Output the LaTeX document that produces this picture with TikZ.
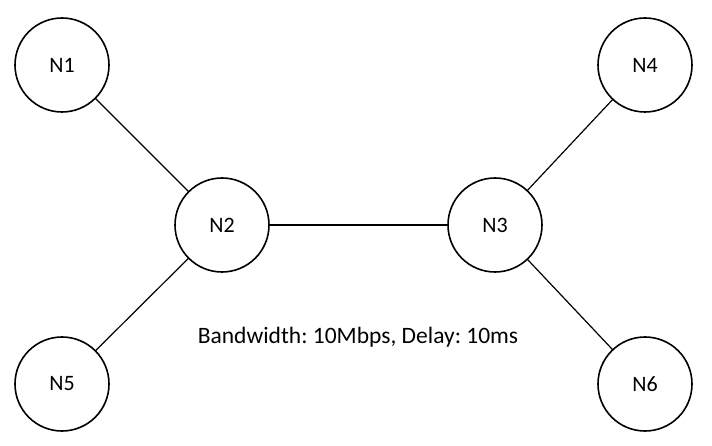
\documentclass[tikz,border=0pt]{standalone}
\usepackage{fontspec}
\setmainfont{Carlito}
\usepackage{tikz}
\frenchspacing

\tikzset{
  hostnode/.style={draw=black,line width=1.6pt,circle,minimum size=94pt,inner sep=0pt,font=\fontsize{22}{26}\selectfont},
  linkline/.style={draw=black,line width=1.2pt}
}

\begin{document}
\begin{tikzpicture}[y=1pt,x=1pt,yscale=-1, outer sep=0pt]
  \useasboundingbox (0,0) rectangle (712,446);
  % hosts
  \node[hostnode] (n1) at (62,65) {N1};
  \node[hostnode] (n2) at (222,225) {N2};
  \node[hostnode] (n3) at (495,225) {N3};
  \node[hostnode] (n4) at (645,65) {N4};
  \node[hostnode] (n5) at (62,384) {N5};
  \node[hostnode] (n6) at (645,384) {N6};
  % links
  \path[linkline] (n1) -- (n2);
  \path[linkline] (n5) -- (n2);
  \path[linkline] (n2) -- (n3);
  \path[linkline] (n3) -- (n4);
  \path[linkline] (n3) -- (n6);
  \node[font=\fontsize{23.5}{28}\selectfont] (bwlabel) at (358,337) {Bandwidth: 10Mbps, Delay: 10ms};
\end{tikzpicture}
\end{document}
